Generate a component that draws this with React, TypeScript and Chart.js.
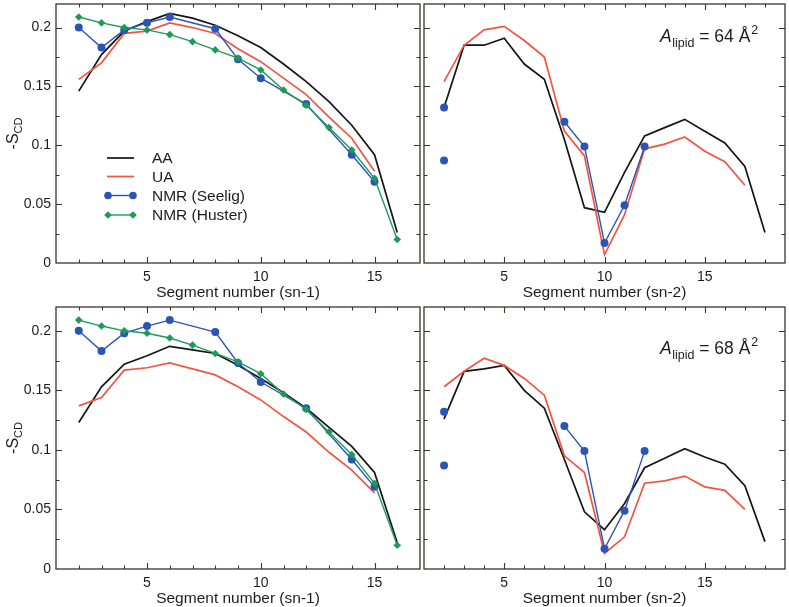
import React, { useEffect, useRef } from "react";
import { Chart, registerables } from "chart.js";

Chart.register(...registerables);

// ---------- DATA ----------
const sn1Segments = [2, 3, 4, 5, 6, 7, 8, 9, 10, 11, 12, 13, 14, 15, 16];
const sn2Segments = [2, 3, 4, 5, 6, 7, 8, 9, 10, 11, 12, 13, 14, 15, 16, 17, 18];
const seeligSn1Segments = [2, 3, 4, 5, 6, 8, 9, 10, 12, 14, 15];
const seeligSn2Segments = [8, 9, 10, 11, 12];
const seeligSn2C2Segments = [2, 2];

// A_lipid = 64 Å^2
const aaSn1A64 = [0.146, 0.177, 0.197, 0.205, 0.212, 0.208, 0.202, 0.193, 0.183, 0.169, 0.154, 0.137, 0.117, 0.092, 0.026];
const uaSn1A64 = [0.156, 0.170, 0.195, 0.197, 0.204, 0.200, 0.195, 0.182, 0.171, 0.157, 0.143, 0.124, 0.106, 0.078];
const aaSn2A64 = [0.132, 0.185, 0.185, 0.191, 0.169, 0.156, 0.105, 0.047, 0.043, 0.077, 0.108, 0.115, 0.122, 0.112, 0.102, 0.082, 0.026];
const uaSn2A64 = [0.154, 0.185, 0.198, 0.201, 0.189, 0.175, 0.112, 0.091, 0.007, 0.041, 0.097, 0.101, 0.107, 0.095, 0.086, 0.066];

// A_lipid = 68 Å^2
const aaSn1A68 = [0.123, 0.153, 0.172, 0.179, 0.187, 0.184, 0.181, 0.171, 0.160, 0.148, 0.135, 0.119, 0.103, 0.081, 0.022];
const uaSn1A68 = [0.137, 0.144, 0.167, 0.169, 0.173, 0.168, 0.163, 0.153, 0.142, 0.128, 0.115, 0.098, 0.083, 0.064];
const aaSn2A68 = [0.126, 0.166, 0.168, 0.171, 0.150, 0.135, 0.092, 0.048, 0.033, 0.055, 0.085, 0.093, 0.101, 0.094, 0.088, 0.070, 0.023];
const uaSn2A68 = [0.153, 0.166, 0.177, 0.171, 0.160, 0.146, 0.095, 0.081, 0.013, 0.027, 0.072, 0.074, 0.078, 0.069, 0.066, 0.050];

// NMR experiments
const seeligSn1 = [0.200, 0.183, 0.198, 0.204, 0.209, 0.199, 0.173, 0.157, 0.135, 0.092, 0.069];
const husterSn1 = [0.209, 0.204, 0.200, 0.198, 0.194, 0.188, 0.181, 0.174, 0.164, 0.147, 0.134, 0.115, 0.096, 0.072, 0.020];
const seeligSn2 = [0.120, 0.099, 0.017, 0.049, 0.099];
const seeligSn2C2 = [0.132, 0.087];

const xTickValues = [5, 10, 15];
const yTickValues = [0, 0.05, 0.1, 0.15, 0.2];
const legendLabels = ["AA", "UA", "NMR (Seelig)", "NMR (Huster)"];
const xTitles = ["Segment number (sn-1)", "Segment number (sn-2)"];
const areaValues = ["64", "68"];

// ---------- STYLE ----------
const FONT = '"Liberation Sans", Arial, Helvetica, sans-serif';
const FRAME = "#3a3330";
const TEXT = "#1c1c1c";
const C_AA = "#151515";
const C_UA = "#f2553f";
const C_SEELIG = "#2b55b5";
const C_HUSTER = "#1d9a58";

const pts = (xs: number[], ys: number[]) => ys.map((y, i) => ({ x: xs[i], y }));

type Spec = {
  left: number; top: number; width: number; height: number;
  padL: number; padT: number; padR: number;
  yWidth: number; xHeight: number;
  xMax: number; sn1: boolean; row: number;
  titleBaseline: number; areaBaseline: number;
};

function lineDs(label: string, data: any[], color: string, order: number) {
  return {
    label, data, borderColor: color, backgroundColor: color,
    borderWidth: 1.7, pointRadius: 0, tension: 0, order,
  };
}

function markerDs(label: string, data: any[], color: string, style: string, order: number, showLine = true) {
  return {
    label, data, borderColor: color, backgroundColor: color,
    borderWidth: 1.4, pointRadius: style === "circle" ? 4 : 3.8,
    pointBorderWidth: 0, pointStyle: style, tension: 0, order, showLine,
  };
}

function makeDatasets(spec: Spec) {
  const r = spec.row;
  if (spec.sn1) {
    const aa = r === 0 ? aaSn1A64 : aaSn1A68;
    const ua = r === 0 ? uaSn1A64 : uaSn1A68;
    return [
      lineDs("AA", pts(sn1Segments, aa), C_AA, 4),
      lineDs("UA", pts(sn1Segments, ua), C_UA, 3),
      markerDs("NMR (Seelig)", pts(seeligSn1Segments, seeligSn1), C_SEELIG, "circle", 2),
      markerDs("NMR (Huster)", pts(sn1Segments, husterSn1), C_HUSTER, "rectRot", 1),
    ];
  }
  const aa = r === 0 ? aaSn2A64 : aaSn2A68;
  const ua = r === 0 ? uaSn2A64 : uaSn2A68;
  return [
    lineDs("AA", pts(sn2Segments, aa), C_AA, 4),
    lineDs("UA", pts(sn2Segments, ua), C_UA, 3),
    markerDs("NMR (Seelig)", pts(seeligSn2Segments, seeligSn2), C_SEELIG, "circle", 2),
    markerDs("NMR (Seelig) C2", pts(seeligSn2C2Segments, seeligSn2C2), C_SEELIG, "circle", 2, false),
  ];
}

function makePlugin(spec: Spec) {
  return {
    id: "decor" + spec.row + (spec.sn1 ? "a" : "b"),
    afterDatasetsDraw(chart: any) {
      const ctx = chart.ctx;
      const ca = chart.chartArea;
      const xs = chart.scales.x;
      const ys = chart.scales.y;
      ctx.save();
      ctx.strokeStyle = FRAME;
      ctx.lineWidth = 1.3;
      ctx.strokeRect(ca.left, ca.top, ca.right - ca.left, ca.bottom - ca.top);
      ctx.lineWidth = 1.1;
      ctx.beginPath();
      for (let v = 2; v < spec.xMax; v++) {
        const px = Math.round(xs.getPixelForValue(v)) + 0.5;
        const len = v % 5 === 0 ? 6 : 3.5;
        ctx.moveTo(px, ca.bottom); ctx.lineTo(px, ca.bottom - len);
        ctx.moveTo(px, ca.top); ctx.lineTo(px, ca.top + len);
      }
      for (let k = 1; k <= 8; k++) {
        const v = k * 0.025;
        const py = Math.round(ys.getPixelForValue(v)) + 0.5;
        const len = k % 2 === 0 ? 6 : 3.5;
        ctx.moveTo(ca.left, py); ctx.lineTo(ca.left + len, py);
        ctx.moveTo(ca.right, py); ctx.lineTo(ca.right - len, py);
      }
      ctx.stroke();
      ctx.restore();
    },
    afterDraw(chart: any) {
      const ctx = chart.ctx;
      const ca = chart.chartArea;
      ctx.save();
      ctx.fillStyle = TEXT;
      // x title
      ctx.font = `15.5px ${FONT}`;
      ctx.textAlign = "center";
      ctx.textBaseline = "alphabetic";
      ctx.fillText(spec.sn1 ? xTitles[0] : xTitles[1], (ca.left + ca.right) / 2, spec.titleBaseline - spec.top);

      if (spec.sn1) {
        // y title: -S_CD
        const cy = (ca.top + ca.bottom) / 2;
        ctx.translate(13, cy);
        ctx.rotate(-Math.PI / 2);
        ctx.font = `16px ${FONT}`;
        const w1 = ctx.measureText("-S").width;
        ctx.font = `11px ${FONT}`;
        const w2 = ctx.measureText("CD").width;
        const start = -(w1 + w2) / 2;
        ctx.textAlign = "left";
        ctx.textBaseline = "alphabetic";
        ctx.font = `16px ${FONT}`;
        ctx.fillText("-S", start, 5);
        ctx.font = `11px ${FONT}`;
        ctx.fillText("CD", start + w1, 9);
        ctx.setTransform(1, 0, 0, 1, 0, 0);

        if (spec.row === 0) {
          // legend
          const rows = [158, 176.5, 195.5, 215];
          const x0 = 107 - spec.left, x1 = 134 - spec.left, tx = 152 - spec.left;
          const cols = [C_AA, C_UA, C_SEELIG, C_HUSTER];
          rows.forEach((yy, i) => {
            const y = yy - spec.top;
            ctx.strokeStyle = cols[i];
            ctx.lineWidth = i < 2 ? 1.7 : 1.4;
            ctx.beginPath(); ctx.moveTo(x0, y); ctx.lineTo(x1, y); ctx.stroke();
            ctx.fillStyle = cols[i];
            if (i === 2) {
              [x0 + 1, x1 - 1].forEach((px) => { ctx.beginPath(); ctx.arc(px, y, 3.8, 0, Math.PI * 2); ctx.fill(); });
            } else if (i === 3) {
              [x0 + 1, x1 - 1].forEach((px) => {
                ctx.beginPath(); ctx.moveTo(px, y - 3.8); ctx.lineTo(px + 3.8, y); ctx.lineTo(px, y + 3.8); ctx.lineTo(px - 3.8, y); ctx.closePath(); ctx.fill();
              });
            }
            ctx.fillStyle = TEXT;
            ctx.font = `15.5px ${FONT}`;
            ctx.textAlign = "left";
            ctx.textBaseline = "middle";
            ctx.fillText(legendLabels[i], tx, y + 1);
          });
        }
      } else {
        // A_lipid annotation
        let x = 660 - spec.left;
        const base = spec.areaBaseline - spec.top;
        ctx.textAlign = "left";
        ctx.textBaseline = "alphabetic";
        ctx.font = `italic 17.5px ${FONT}`;
        ctx.fillText("A", x, base);
        x += ctx.measureText("A").width + 0.5;
        ctx.font = `12.5px ${FONT}`;
        ctx.fillText("lipid", x, base + 5);
        x += ctx.measureText("lipid").width;
        ctx.font = `17.5px ${FONT}`;
        const main = " = " + areaValues[spec.row] + " Å";
        ctx.fillText(main, x, base);
        x += ctx.measureText(main).width + 1;
        ctx.font = `12.5px ${FONT}`;
        ctx.fillText("2", x, base - 8);
      }
      ctx.restore();
    },
  };
}

function Panel({ spec }: { spec: Spec }) {
  const ref = useRef<HTMLCanvasElement>(null);
  useEffect(() => {
    const canvas = ref.current!;
    const chart = new Chart(canvas, {
      type: "line",
      data: { datasets: makeDatasets(spec) as any },
      options: {
        animation: false,
        responsive: false,
        events: [],
        layout: { padding: { left: spec.padL, top: spec.padT, right: spec.padR, bottom: 0 } },
        plugins: { legend: { display: false }, tooltip: { enabled: false } },
        scales: {
          x: {
            type: "linear",
            min: 1,
            max: spec.xMax,
            grid: { display: false, drawTicks: false },
            border: { display: false },
            afterBuildTicks: (s: any) => { s.ticks = xTickValues.map((v) => ({ value: v })); },
            afterFit: (s: any) => {
              s.height = spec.xHeight;
              s.paddingLeft = 0; s.paddingRight = 0; s.paddingTop = 0; s.paddingBottom = 0;
            },
            ticks: {
              padding: 5.5,
              maxRotation: 0,
              color: TEXT,
              font: { family: FONT, size: 14 },
              callback: (v: any) => String(v),
            },
          },
          y: {
            type: "linear",
            min: 0,
            max: 0.22,
            grid: { display: false, drawTicks: false },
            border: { display: false },
            afterBuildTicks: (s: any) => { s.ticks = yTickValues.map((v) => ({ value: v })); },
            afterFit: (s: any) => {
              s.width = spec.yWidth;
              s.paddingLeft = 0; s.paddingRight = 0; s.paddingTop = 0; s.paddingBottom = 0;
            },
            ticks: {
              display: spec.sn1,
              padding: 5,
              color: TEXT,
              font: { family: FONT, size: 14 },
              callback: (v: any) => String(v),
            },
          },
        },
      },
      plugins: [makePlugin(spec)],
    });
    return () => chart.destroy();
  }, []);
  return (
    <canvas
      ref={ref}
      width={spec.width}
      height={spec.height}
      style={{ position: "absolute", left: spec.left, top: spec.top, width: spec.width, height: spec.height }}
    />
  );
}

const specs: Spec[] = [
  { left: 0, top: 0, width: 424, height: 300, padL: 0, padT: 1, padR: 2, yWidth: 56, xHeight: 37, xMax: 17, sn1: true, row: 0, titleBaseline: 297, areaBaseline: 42 },
  { left: 420, top: 0, width: 369, height: 300, padL: 2, padT: 1, padR: 1, yWidth: 0, xHeight: 37, xMax: 19, sn1: false, row: 0, titleBaseline: 297, areaBaseline: 42 },
  { left: 0, top: 300, width: 424, height: 307, padL: 0, padT: 7, padR: 2, yWidth: 56, xHeight: 38, xMax: 17, sn1: true, row: 1, titleBaseline: 603, areaBaseline: 354 },
  { left: 420, top: 300, width: 369, height: 307, padL: 2, padT: 7, padR: 1, yWidth: 0, xHeight: 38, xMax: 19, sn1: false, row: 1, titleBaseline: 603, areaBaseline: 354 },
];

export default function App() {
  return (
    <div style={{ position: "absolute", left: 0, top: 0, width: 789, height: 607, background: "#fff", overflow: "hidden" }}>
      {specs.map((s, i) => <Panel key={i} spec={s} />)}
    </div>
  );
}
